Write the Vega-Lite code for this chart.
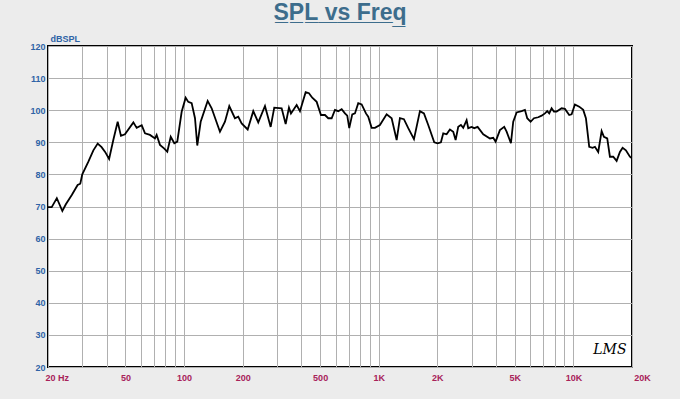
{
  "$schema": "https://vega.github.io/schema/vega-lite/v6.json",
  "width": 584,
  "height": 321,
  "autosize": "none",
  "padding": {"left": 48, "top": 46, "right": 48, "bottom": 32},
  "background": "#ececec",
  "title": {
    "text": "S̲P̲L̲ ̲v̲s̲ ̲F̲r̲e̲q̲",
    "font": "Liberation Sans",
    "fontSize": 23,
    "fontWeight": "bold",
    "color": "#3d6d8c",
    "anchor": "middle",
    "offset": 9
  },
  "config": {
    "view": {"stroke": "#000000", "strokeWidth": 2, "fill": "#ffffff"},
    "axis": {"domain": false, "ticks": false, "gridColor": "#b0b0b0", "gridWidth": 1, "gridOpacity": 1}
  },
  "encoding": {
    "x": {
      "field": "f", "type": "quantitative",
      "scale": {"type": "log", "domain": [20, 20000], "nice": false},
      "axis": {
        "title": null,
        "values": [20, 30, 40, 50, 60, 70, 80, 90, 100, 200, 300, 400, 500, 600, 700, 800, 900, 1000, 2000, 3000, 4000, 5000, 6000, 7000, 8000, 9000, 10000, 20000],
        "labelExpr": "indexof([20,50,100,200,500,1000,2000,5000,10000,20000], datum.value) < 0 ? '' : (datum.value == 20 ? '20  Hz' : (datum.value >= 1000 ? (datum.value/1000) + 'K' : '' + datum.value))",
        "labelFont": "Liberation Sans",
        "labelFontSize": 9,
        "labelFontWeight": "bold",
        "labelColor": "#a8225a",
        "labelPadding": 6,
        "labelAlign": {"expr": "datum.value == 20 ? 'left' : 'center'"},
        "labelOffset": {"expr": "datum.value == 20000 ? 10 : (datum.value == 20 ? -3 : 0)"},
        "labelFlush": false,
        "labelOverlap": false
      }
    },
    "y": {
      "field": "db", "type": "quantitative",
      "scale": {"domain": [20, 120], "nice": false},
      "axis": {
        "title": "dBSPL",
        "titleAngle": 0,
        "titleAlign": "left",
        "titleBaseline": "bottom",
        "titleX": 2,
        "titleY": -3,
        "titleFont": "Liberation Sans",
        "titleFontSize": 9,
        "titleFontWeight": "bold",
        "titleColor": "#2f63a6",
        "values": [20, 30, 40, 50, 60, 70, 80, 90, 100, 110, 120],
        "labelFont": "Liberation Sans",
        "labelFontSize": 9,
        "labelFontWeight": "bold",
        "labelColor": "#2f63a6",
        "labelPadding": 3,
        "labelFlush": false,
        "labelOverlap": false
      }
    }
  },
  "layer": [
    {
      "data": {"values": [
        {"f": 20, "db": 69.8}, {"f": 20.9, "db": 69.8}, {"f": 22.2, "db": 72.6}, {"f": 23.7, "db": 68.6},
        {"f": 24.7, "db": 70.7}, {"f": 26.5, "db": 73.6}, {"f": 28.4, "db": 76.7}, {"f": 29.3, "db": 77.1},
        {"f": 30.0, "db": 80.0}, {"f": 32.2, "db": 83.9}, {"f": 34.2, "db": 87.5}, {"f": 36.0, "db": 89.6},
        {"f": 37.7, "db": 88.5}, {"f": 39.3, "db": 87.0}, {"f": 41.2, "db": 84.8}, {"f": 43.3, "db": 90.7},
        {"f": 45.6, "db": 96.4}, {"f": 47.4, "db": 92.0}, {"f": 49.7, "db": 92.5}, {"f": 54.9, "db": 96.2},
        {"f": 57.1, "db": 94.5}, {"f": 60.6, "db": 95.3}, {"f": 63.0, "db": 92.8}, {"f": 66.8, "db": 92.3},
        {"f": 70.9, "db": 91.2}, {"f": 72.3, "db": 92.3}, {"f": 75.2, "db": 89.2}, {"f": 78.9, "db": 88.1},
        {"f": 82.0, "db": 87.1}, {"f": 85.4, "db": 91.7}, {"f": 89.1, "db": 89.7}, {"f": 92.3, "db": 90.2},
        {"f": 97.2, "db": 99.5}, {"f": 101.9, "db": 103.9}, {"f": 105.1, "db": 102.6}, {"f": 109.4, "db": 102.2},
        {"f": 113.8, "db": 97.5}, {"f": 116.9, "db": 89.0}, {"f": 121.7, "db": 96.4}, {"f": 132.2, "db": 102.9},
        {"f": 138.6, "db": 100.6}, {"f": 152.9, "db": 93.3}, {"f": 162.2, "db": 96.4}, {"f": 170.7, "db": 101.3},
        {"f": 182.5, "db": 97.5}, {"f": 189.8, "db": 98.0}, {"f": 197.6, "db": 95.9}, {"f": 212.2, "db": 94.0},
        {"f": 226.7, "db": 99.7}, {"f": 240.5, "db": 96.2}, {"f": 260.4, "db": 101.3}, {"f": 278.5, "db": 94.8},
        {"f": 290.6, "db": 100.8}, {"f": 317.2, "db": 100.6}, {"f": 332.6, "db": 95.7}, {"f": 345.8, "db": 100.8},
        {"f": 354.1, "db": 99.0}, {"f": 378.8, "db": 101.6}, {"f": 393.9, "db": 99.7}, {"f": 421.3, "db": 105.6},
        {"f": 438.1, "db": 105.3}, {"f": 455.6, "db": 103.9}, {"f": 479.9, "db": 102.6}, {"f": 504.9, "db": 98.5},
        {"f": 529.4, "db": 98.5}, {"f": 550.4, "db": 97.5}, {"f": 573.0, "db": 97.5}, {"f": 595.8, "db": 100.1},
        {"f": 619.5, "db": 99.7}, {"f": 645.0, "db": 100.3}, {"f": 670.6, "db": 99.0}, {"f": 689.1, "db": 98.3},
        {"f": 705.6, "db": 94.4}, {"f": 731.1, "db": 98.7}, {"f": 754.8, "db": 99.0}, {"f": 784.8, "db": 102.2},
        {"f": 817.0, "db": 101.8}, {"f": 859.6, "db": 99.0}, {"f": 883.3, "db": 98.0}, {"f": 919.5, "db": 94.5},
        {"f": 956.2, "db": 94.5}, {"f": 1014, "db": 95.4}, {"f": 1098, "db": 98.7}, {"f": 1165, "db": 97.5},
        {"f": 1236, "db": 90.7}, {"f": 1285, "db": 97.5}, {"f": 1347, "db": 97.2}, {"f": 1418, "db": 94.4},
        {"f": 1517, "db": 91.0}, {"f": 1628, "db": 99.7}, {"f": 1707, "db": 99.0}, {"f": 1796, "db": 95.4},
        {"f": 1928, "db": 90.0}, {"f": 2007, "db": 89.7}, {"f": 2087, "db": 90.0}, {"f": 2145, "db": 92.8},
        {"f": 2232, "db": 92.5}, {"f": 2321, "db": 94.0}, {"f": 2414, "db": 93.3}, {"f": 2483, "db": 90.7},
        {"f": 2561, "db": 94.8}, {"f": 2644, "db": 95.4}, {"f": 2717, "db": 94.5}, {"f": 2828, "db": 96.9},
        {"f": 2882, "db": 94.4}, {"f": 3001, "db": 94.8}, {"f": 3094, "db": 94.4}, {"f": 3221, "db": 94.8},
        {"f": 3442, "db": 92.5}, {"f": 3726, "db": 91.2}, {"f": 3874, "db": 91.4}, {"f": 3985, "db": 90.2},
        {"f": 4193, "db": 93.8}, {"f": 4412, "db": 94.8}, {"f": 4539, "db": 93.3}, {"f": 4776, "db": 89.7},
        {"f": 4908, "db": 96.4}, {"f": 5109, "db": 99.3}, {"f": 5421, "db": 99.7}, {"f": 5636, "db": 100.1},
        {"f": 5792, "db": 97.5}, {"f": 6029, "db": 96.4}, {"f": 6270, "db": 97.5}, {"f": 6597, "db": 97.8},
        {"f": 6867, "db": 98.3}, {"f": 7141, "db": 99.0}, {"f": 7338, "db": 99.7}, {"f": 7513, "db": 99.0},
        {"f": 7729, "db": 100.6}, {"f": 7942, "db": 99.6}, {"f": 8200, "db": 99.6}, {"f": 8700, "db": 100.6},
        {"f": 9046, "db": 100.4}, {"f": 9518, "db": 98.5}, {"f": 9792, "db": 98.7}, {"f": 10182, "db": 101.8},
        {"f": 10714, "db": 101.1}, {"f": 11232, "db": 100.1}, {"f": 11596, "db": 97.5}, {"f": 12058, "db": 88.6},
        {"f": 12554, "db": 88.3}, {"f": 12900, "db": 88.6}, {"f": 13414, "db": 87.0}, {"f": 13964, "db": 93.5},
        {"f": 14350, "db": 91.7}, {"f": 14920, "db": 91.2}, {"f": 15404, "db": 85.5}, {"f": 16018, "db": 85.5},
        {"f": 16674, "db": 84.2}, {"f": 17338, "db": 87.0}, {"f": 17898, "db": 88.3}, {"f": 18610, "db": 87.5},
        {"f": 19512, "db": 85.5}, {"f": 20000, "db": 85.0}
      ]},
      "mark": {"type": "line", "color": "#000000", "strokeWidth": 1.8, "clip": true}
    },
    {
      "data": {"values": [{"f": 15400, "db": 25.3, "t": "LMS"}]},
      "mark": {"type": "text", "font": "DejaVu Serif", "fontStyle": "italic", "fontSize": 14, "color": "#000000"},
      "encoding": {
        "text": {"field": "t"}
      }
    }
  ]
}
